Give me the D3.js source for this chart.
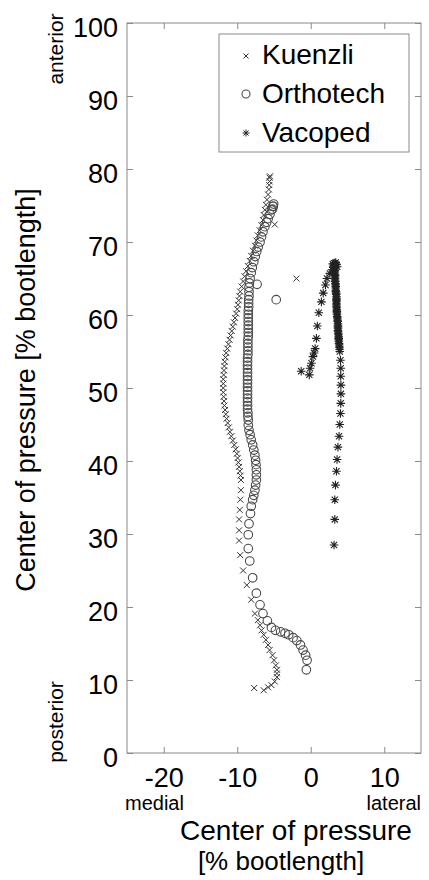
<!DOCTYPE html>
<html>
<head>
<meta charset="utf-8">
<script src="https://cdnjs.cloudflare.com/ajax/libs/d3/7.8.5/d3.min.js"></script>
<style>
  html, body { margin: 0; padding: 0; background: #fff; }
  svg { display: block; }
  text { font-family: "Liberation Sans", Arial, sans-serif; fill: #000; }
</style>
</head>
<body>
<svg id="chart" width="429" height="880"></svg>
<script>
// ---------------- data ----------------
const seriesNames = ["Kuenzli", "Orthotech", "Vacoped"];
const xTicks = [-20, -10, 0, 10];
const yTicks = [0, 10, 20, 30, 40, 50, 60, 70, 80, 90, 100];

// [medio-lateral %, antero-posterior %]
const kuenzli = [
  [-7.7,8.9],[-6.4,8.6],[-5.8,9.0],[-5.35,9.3],[-4.9,9.8],[-4.6,10.4],[-4.6,10.9],[-4.6,11.4],
  [-4.75,12.0],[-5.0,12.7],[-5.2,13.4],[-5.6,14.1],[-5.8,14.8],[-6.1,15.5],[-6.4,16.2],[-6.7,16.8],
  [-6.9,17.5],[-7.2,18.2],[-7.6,19.1],[-8.1,21.0],[-8.7,23.0],[-9.2,25.0],[-9.6,27.1],[-9.75,29.1],
  [-9.75,30.5],[-9.75,32.0],[-9.66,33.3],[-9.57,34.7],[-9.5,36.0],[-9.5,37.4],
  [-9.55,38.0],[-9.65,38.6],[-9.75,39.2],[-9.85,39.8],[-9.95,40.4],[-10.05,41.0],[-10.2,41.6],
  [-10.4,42.2],[-10.6,42.8],[-10.8,43.4],[-11.0,44.0],[-11.15,44.6],[-11.3,45.2],[-11.45,45.8],
  [-11.55,46.4],[-11.65,47.0],[-11.75,47.6],[-11.8,48.2],[-11.85,48.8],[-11.9,49.4],[-11.9,50.0],
  [-11.9,50.6],[-11.9,51.2],[-11.85,51.8],[-11.8,52.4],[-11.75,53.0],[-11.7,53.6],[-11.6,54.2],
  [-11.5,54.8],[-11.35,55.4],[-11.2,56.0],[-11.05,56.6],[-10.9,57.2],[-10.75,57.8],[-10.6,58.4],
  [-10.45,59.0],[-10.3,59.6],[-10.15,60.2],[-10.0,60.8],[-9.9,61.4],[-9.8,62.0],[-9.7,62.6],
  [-9.6,63.2],[-9.4,63.9],[-9.2,64.6],[-9.0,65.3],[-8.8,66.0],[-8.55,66.7],[-8.3,67.4],[-8.1,68.1],
  [-7.85,68.8],[-7.6,69.5],[-7.4,70.2],[-7.2,70.9],[-6.95,71.6],[-6.7,72.3],[-6.5,73.0],[-6.4,73.7],
  [-6.25,74.4],[-6.1,75.1],[-5.95,75.8],[-5.8,76.5],[-5.7,77.2],[-5.65,77.8],[-5.6,78.3],[-5.6,78.8],
  [-5.55,79.0],[-4.9,72.4],[-1.95,65.0]
];

const orthotech = [
  [-0.6,11.4],[-0.5,12.7],[-0.7,13.4],[-1.05,14.1],[-1.4,14.8],[-1.9,15.4],[-2.4,15.8],[-3.0,16.2],
  [-3.5,16.4],[-4.1,16.6],[-4.8,16.8],[-5.35,17.2],[-5.9,18.1],[-6.5,19.1],[-6.9,20.3],[-7.4,21.9],
  [-7.9,24.0],[-8.3,26.3],[-8.5,28.0],[-8.5,29.9],[-8.4,31.4],[-8.2,32.8],[-8.1,33.8],[-7.9,34.7],
  [-7.75,35.3],[-7.6,36.0],[-7.5,36.7],[-7.4,37.4],[-7.4,38.1],[-7.4,38.8],[-7.45,39.5],[-7.5,40.1],
  [-7.6,40.8],[-7.75,41.5],[-7.9,42.2],[-8.1,42.9],[-8.25,43.6],[-8.4,44.2],[-8.5,44.9],[-8.5,45.6],
  [-8.55,46.1],[-8.55,46.6],[-8.6,47.1],[-8.6,47.6],[-8.6,48.1],[-8.6,48.6],[-8.6,49.1],[-8.6,49.6],
  [-8.6,50.1],[-8.6,50.6],[-8.6,51.1],[-8.6,51.6],[-8.6,52.1],[-8.6,52.6],[-8.6,53.1],[-8.6,53.6],
  [-8.6,54.1],[-8.55,54.6],[-8.55,55.1],[-8.55,55.6],[-8.55,56.1],[-8.55,56.6],[-8.5,57.1],[-8.5,57.6],
  [-8.5,58.1],[-8.5,58.6],[-8.5,59.1],[-8.5,59.6],[-8.5,60.1],[-8.5,60.6],[-8.45,61.1],[-8.45,61.6],
  [-8.45,62.1],[-8.4,62.6],[-8.4,63.2],[-8.4,63.8],[-8.35,64.4],[-8.25,65.0],[-8.1,65.8],[-7.95,66.5],
  [-7.75,67.3],[-7.55,68.0],[-7.35,68.7],[-7.15,69.3],[-6.9,70.0],[-6.7,70.7],[-6.5,71.4],[-6.25,72.1],
  [-6.0,72.7],[-5.8,73.2],[-5.55,73.8],[-5.35,74.4],[-5.15,74.9],[-5.05,75.2],[-5.1,74.9],[-5.2,74.5],
  [-7.3,64.2],[-4.7,62.1]
];

const vacoped = [
  [3.17,28.5],[3.27,32.0],[3.27,34.7],[3.36,36.7],[3.5,38.6],[3.58,40.2],[3.7,41.9],[3.85,43.4],
  [3.95,45.0],[4.04,46.5],[4.08,47.9],[4.1,49.2],[4.1,50.4],[4.08,51.6],[4.08,52.7],[4.04,53.8],
  [3.95,55.0],[3.92,55.3],[3.9,55.6],[3.87,55.9],[3.85,56.1],[3.82,56.4],[3.8,56.6],[3.8,56.8],
  [3.8,57.0],[3.77,57.3],[3.75,57.5],[3.72,57.7],[3.7,57.9],[3.7,58.2],[3.7,58.4],[3.7,58.6],
  [3.7,58.8],[3.67,59.1],[3.65,59.3],[3.62,59.6],[3.6,59.8],[3.57,60.1],[3.55,60.3],[3.55,60.5],
  [3.55,60.7],[3.52,61.0],[3.5,61.2],[3.5,61.4],[3.5,61.6],[3.5,61.9],[3.5,62.1],[3.5,62.3],
  [3.5,62.5],[3.47,62.8],[3.45,63.0],[3.42,63.2],[3.4,63.4],[3.4,63.7],[3.4,63.9],[3.38,64.1],
  [3.36,64.3],[3.33,64.6],[3.3,64.8],[3.3,65.0],[3.3,65.2],[3.3,65.4],[3.3,65.6],[3.28,65.9],
  [3.27,66.1],[3.27,66.3],[3.27,66.5],[3.3,66.9],[3.2,67.1],[3.4,67.2],[3.0,67.0],[3.5,66.9],
  [3.6,66.6],[3.1,66.5],[3.35,67.0],[3.15,66.8],
  [2.9,66.2],[2.6,65.7],[2.2,65.0],[2.0,64.1],[1.7,63.0],[1.45,61.8],[1.1,60.3],[0.9,58.5],
  [0.77,56.8],[0.6,55.4],[0.45,54.8],[0.3,54.3],[0.1,53.4],[-0.1,52.7],[-0.2,51.8],[-1.3,52.3]
];

// ---------------- layout ----------------
const svg = d3.select("#chart");
const L = 127, R = 421, T = 23, B = 753;
const x = d3.scaleLinear().domain([-25, 15]).range([L, R]);
const y = d3.scaleLinear().domain([0, 100]).range([B, T]);
const axisColor = "#8a8a8a";

// marker path generators
function timesPath(r) { return `M${-r},${-r}L${r},${r}M${-r},${r}L${r},${-r}`; }
function starPath(r) {
  const d = r * 0.72;
  return `M${-r},0L${r},0M0,${-r}L0,${r}M${-d},${-d}L${d},${d}M${-d},${d}L${d},${-d}`;
}

// ---------------- axes ----------------
const fmt = d => String(d);
const gL = svg.append("g").attr("transform", `translate(${L},0)`)
  .call(d3.axisLeft(y).tickValues(yTicks).tickSize(-6).tickPadding(9).tickFormat(fmt));
const gR = svg.append("g").attr("transform", `translate(${R},0)`)
  .call(d3.axisRight(y).tickValues(yTicks).tickSize(-6).tickFormat(""));
const gB = svg.append("g").attr("transform", `translate(0,${B})`)
  .call(d3.axisBottom(x).tickValues(xTicks).tickSize(-6).tickPadding(15).tickFormat(fmt));
const gT = svg.append("g").attr("transform", `translate(0,${T})`)
  .call(d3.axisTop(x).tickValues(xTicks).tickSize(-6).tickFormat(""));

[gL, gR, gB, gT].forEach(g => {
  g.select(".domain").remove();
  g.selectAll(".tick line").attr("stroke", axisColor).attr("stroke-width", 1);
  g.selectAll(".tick text").attr("fill", "#000")
    .style("font-family", '"Liberation Sans", Arial, sans-serif')
    .style("font-size", "27px");
});
gL.selectAll(".tick text").attr("dy", "0.5em");

svg.append("rect").attr("x", L).attr("y", T).attr("width", R - L).attr("height", B - T)
  .attr("fill", "none").attr("stroke", axisColor).attr("stroke-width", 1);

// ---------------- data marks ----------------
const plot = svg.append("g");
plot.selectAll("path.k").data(kuenzli).join("path").attr("class", "k")
  .attr("transform", d => `translate(${x(d[0])},${y(d[1])})`)
  .attr("d", timesPath(3)).attr("fill", "none").attr("stroke", "#333").attr("stroke-width", 1);

plot.selectAll("circle.o").data(orthotech).join("circle").attr("class", "o")
  .attr("cx", d => x(d[0])).attr("cy", d => y(d[1])).attr("r", 4.3)
  .attr("fill", "none").attr("stroke", "#4a4a4a").attr("stroke-width", 1.1);

plot.selectAll("path.v").data(vacoped).join("path").attr("class", "v")
  .attr("transform", d => `translate(${x(d[0])},${y(d[1])})`)
  .attr("d", starPath(4.3)).attr("fill", "none").attr("stroke", "#222").attr("stroke-width", 1.1);

// ---------------- legend ----------------
const lg = svg.append("g");
lg.append("rect").attr("x", 219).attr("y", 34).attr("width", 190).attr("height", 118)
  .attr("fill", "#fff").attr("stroke", axisColor).attr("stroke-width", 1);
const legendRows = seriesNames.map((n, i) => ({ name: n, i }));
lg.selectAll("text.lt").data(legendRows).join("text").attr("class", "lt")
  .attr("x", 262).attr("y", d => 64 + d.i * 38.8)
  .style("font-size", "28px").text(d => d.name);
lg.append("path").attr("transform", "translate(246,56)").attr("d", timesPath(2.5))
  .attr("fill", "none").attr("stroke", "#333");
lg.append("circle").attr("cx", 246).attr("cy", 94).attr("r", 4)
  .attr("fill", "none").attr("stroke", "#4a4a4a").attr("stroke-width", 1.1);
lg.append("path").attr("transform", "translate(246,133)").attr("d", starPath(3.5))
  .attr("fill", "none").attr("stroke", "#222");

// ---------------- titles ----------------
svg.append("text").attr("x", 125).attr("y", 810).style("font-size", "20px").text("medial");
svg.append("text").attr("x", 421).attr("y", 810).attr("text-anchor", "end")
  .style("font-size", "20px").text("lateral");
svg.append("text").attr("x", 296).attr("y", 840).attr("text-anchor", "middle")
  .style("font-size", "28px").text("Center of pressure");
svg.append("text").attr("x", 281).attr("y", 870).attr("text-anchor", "middle")
  .style("font-size", "26px").text("[% bootlength]");

svg.append("text").attr("transform", "translate(35,390) rotate(-90)")
  .attr("text-anchor", "middle").style("font-size", "27px")
  .text("Center of pressure [% bootlength]");
svg.append("text").attr("transform", "translate(63,49) rotate(-90)")
  .attr("text-anchor", "middle").style("font-size", "21px").text("anterior");
svg.append("text").attr("transform", "translate(63,722) rotate(-90)")
  .attr("text-anchor", "middle").style("font-size", "21px").text("posterior");
</script>
</body>
</html>
